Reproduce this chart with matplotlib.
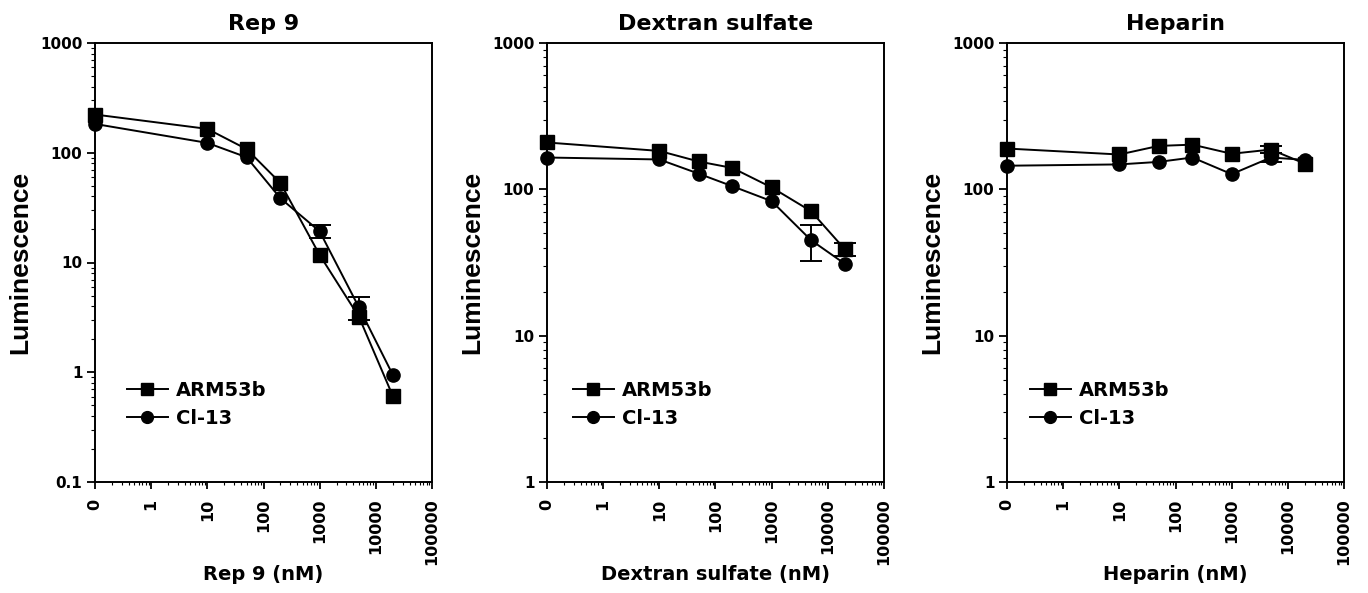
import matplotlib
matplotlib.use("Agg")
import matplotlib.pyplot as plt
from matplotlib.ticker import FixedLocator, FixedFormatter, LogLocator, NullFormatter
from matplotlib.lines import Line2D

plt.rcParams['font.family'] = ['DejaVu Sans']
plt.rcParams['font.weight'] = 'bold'

# ---- data ----
conc = [0, 10, 50, 200, 1000, 5000, 20000]   # nM; 0 is drawn at the "0" tick
zero_pos = 0.1

titles = ["Rep 9", "Dextran sulfate", "Heparin"]
xlabels = ["Rep 9 (nM)", "Dextran sulfate (nM)", "Heparin (nM)"]
series_names = ["ARM53b", "Cl-13"]

rep9_arm = [223, 165, 108, 53, 11.7, 3.2, 0.61]
rep9_arm_err = [0, 0, 0, 0, 0, 0, 0]
rep9_cl = [183, 123, 91, 38.5, 19.2, 3.9, 0.95]
rep9_cl_err = [0, 0, 0, 0, 2.6, 0.9, 0]

dex_arm = [209, 183, 155, 140, 103, 71, 39]
dex_arm_err = [0, 0, 0, 0, 0, 0, 4]
dex_cl = [165, 160, 128, 105, 83, 45, 31]
dex_cl_err = [0, 0, 0, 0, 0, 12.5, 0]

hep_arm = [190, 173, 198, 202, 175, 187, 150]
hep_arm_err = [0, 0, 0, 0, 0, 10, 0]
hep_cl = [145, 148, 154, 165, 127, 165, 159]
hep_cl_err = [0, 0, 0, 0, 0, 12, 0]

x_ticks = [0.1, 1, 10, 100, 1000, 10000, 100000]
x_ticklabels = ["0", "1", "10", "100", "1000", "10000", "100000"]
y_ticks_rep9 = [0.1, 1, 10, 100, 1000]
y_ticklabels_rep9 = ["0.1", "1", "10", "100", "1000"]
y_ticks_other = [1, 10, 100, 1000]
y_ticklabels_other = ["1", "10", "100", "1000"]

panels = [
    (rep9_arm, rep9_arm_err, rep9_cl, rep9_cl_err, (0.1, 1000), y_ticks_rep9, y_ticklabels_rep9),
    (dex_arm, dex_arm_err, dex_cl, dex_cl_err, (1, 1000), y_ticks_other, y_ticklabels_other),
    (hep_arm, hep_arm_err, hep_cl, hep_cl_err, (1, 1000), y_ticks_other, y_ticklabels_other),
]

# ---- layout ----
fig = plt.figure(figsize=(13.68, 5.93), dpi=100)
lefts = [95 / 1368, 547 / 1368, 1007 / 1368]
width = 337 / 1368
bottom = 1 - 482 / 593
height = 439 / 593
legend_x = [0.095, 0.077, 0.068]

xp = [zero_pos if c == 0 else c for c in conc]


def draw_series(ax, y, err, marker):
    ax.plot(xp, y, color='black', lw=1.4, marker=marker, markersize=9.5,
            clip_on=False, zorder=3)
    ex = [x for x, e in zip(xp, err) if e > 0]
    ey = [v for v, e in zip(y, err) if e > 0]
    ee = [e for e in err if e > 0]
    if ex:
        ax.errorbar(ex, ey, yerr=ee, fmt='none', ecolor='black', elinewidth=1.4,
                    capsize=8, capthick=1.4, clip_on=False, zorder=2)


for i, (arm, arm_err, cl, cl_err, ylim, yt, ytl) in enumerate(panels):
    ax = fig.add_axes([lefts[i], bottom, width, height])
    ax.set_xscale('log')
    ax.set_yscale('log')
    ax.set_xlim(0.1, 100000)
    ax.set_ylim(*ylim)

    draw_series(ax, arm, arm_err, 's')
    draw_series(ax, cl, cl_err, 'o')

    ax.xaxis.set_major_locator(FixedLocator(x_ticks))
    ax.xaxis.set_major_formatter(FixedFormatter(x_ticklabels))
    ax.xaxis.set_minor_locator(LogLocator(base=10, subs=range(2, 10), numticks=20))
    ax.xaxis.set_minor_formatter(NullFormatter())
    ax.yaxis.set_major_locator(FixedLocator(yt))
    ax.yaxis.set_major_formatter(FixedFormatter(ytl))
    ax.yaxis.set_minor_locator(LogLocator(base=10, subs=range(2, 10), numticks=20))
    ax.yaxis.set_minor_formatter(NullFormatter())

    ax.tick_params(axis='x', which='major', length=5, width=1.3, pad=7, labelsize=11.5,
                   labelrotation=90, direction='out')
    ax.tick_params(axis='x', which='minor', length=2.5, width=0.8, direction='out')
    ax.tick_params(axis='y', which='major', length=6, width=1.3, pad=3, labelsize=11,
                   direction='out')
    ax.tick_params(axis='y', which='minor', length=3, width=0.8, direction='out')
    for lab in ax.get_xticklabels() + ax.get_yticklabels():
        lab.set_fontweight('bold')

    for sp in ax.spines.values():
        sp.set_linewidth(1.4)

    ax.set_title(titles[i], fontsize=16, fontweight='bold', pad=9)
    ax.set_xlabel(xlabels[i], fontsize=14, fontweight='bold')
    ax.xaxis.set_label_coords(0.5, -0.19)
    ax.xaxis.label.set_va('top')
    ax.set_ylabel("Luminescence", fontsize=19, fontweight='bold',
                  family=['Liberation Sans', 'DejaVu Sans'])
    ax.yaxis.set_label_coords(-0.187, 0.5)

    handles = [Line2D([], [], color='black', lw=1.4, marker='s', markersize=8.5),
               Line2D([], [], color='black', lw=1.4, marker='o', markersize=8.5)]
    ax.legend(handles, series_names, loc='center left',
              bbox_to_anchor=(legend_x[i], 0.1765), frameon=False,
              prop={'size': 14, 'weight': 'bold'}, handlelength=2.1,
              handletextpad=0.4, labelspacing=0.45, borderpad=0, borderaxespad=0)

fig.savefig("out.png", dpi=100)
